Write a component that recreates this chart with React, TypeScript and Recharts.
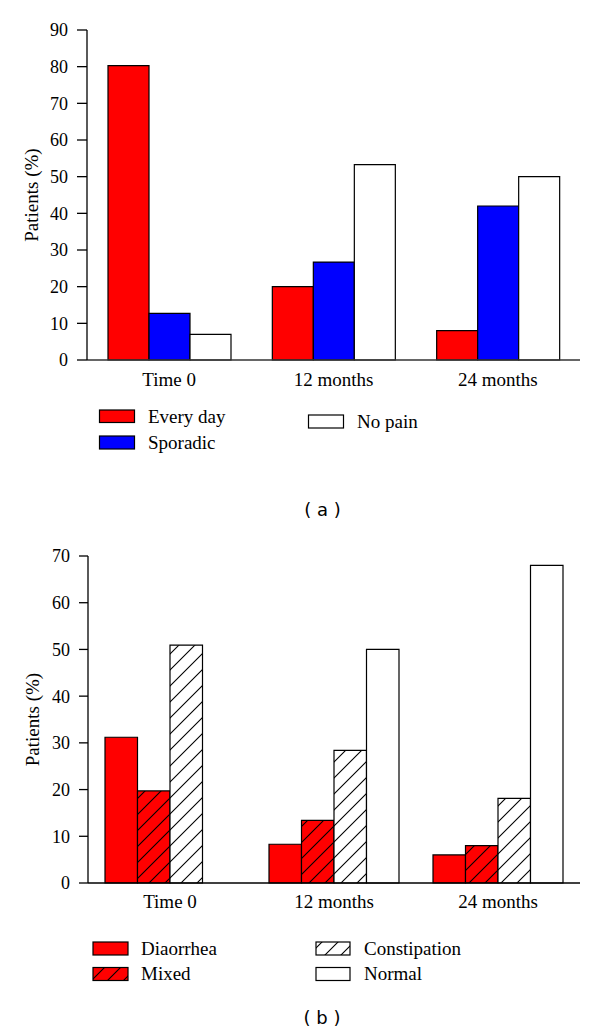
import React from 'react';
import { BarChart, Bar, XAxis, YAxis } from 'recharts';

// ---------- data ----------
const categories = ['Time 0', '12 months', '24 months'];

// (a) pain
const everyDay = [80.3, 20, 8];
const sporadic = [12.7, 26.7, 42];
const noPain = [7, 53.3, 50];
const painTicks = [0, 10, 20, 30, 40, 50, 60, 70, 80, 90];

// (b) bowel habit
const diaorrhea = [31.2, 8.3, 6];
const mixed = [19.7, 13.4, 8];
const constipation = [50.9, 28.4, 18.1];
const normal = [0, 50, 68];
const bowelTicks = [0, 10, 20, 30, 40, 50, 60, 70];

const painData = categories.map((c, i) => ({
  cat: c,
  everyDay: everyDay[i],
  sporadic: sporadic[i],
  noPain: noPain[i],
}));

const bowelData = categories.map((c, i) => ({
  cat: c,
  diaorrhea: diaorrhea[i],
  mixed: mixed[i],
  constipation: constipation[i],
  normal: normal[i],
}));

const SERIF = "'Liberation Serif', 'DejaVu Serif'";
const SANS = "'DejaVu Sans'";

const HatchDefs = ({ prefix }: { prefix: string }) => (
  <defs>
    <pattern id={`${prefix}HatchRed`} patternUnits="userSpaceOnUse" width="16" height="16">
      <rect width="16" height="16" fill="#ff0000" />
      <path d="M0,16 L16,0 M-4,4 L4,-4 M12,20 L20,12" stroke="#000" strokeWidth="1.1" />
    </pattern>
    <pattern id={`${prefix}HatchWhite`} patternUnits="userSpaceOnUse" width="16" height="16">
      <rect width="16" height="16" fill="#ffffff" />
      <path d="M0,16 L16,0 M-4,4 L4,-4 M12,20 L20,12" stroke="#000" strokeWidth="1.1" />
    </pattern>
  </defs>
);

type LegendItem = { label: string; fill: string; x: number; y: number; w: number; h: number; tx: number; ty: number };

const LegendBlock = ({ items, prefix }: { items: LegendItem[]; prefix: string }) => (
  <svg width={600} height={1036} style={{ position: 'absolute', left: 0, top: 0, pointerEvents: 'none' }}>
    <HatchDefs prefix={prefix} />
    {items.map((it) => (
      <g key={it.label}>
        <rect x={it.x} y={it.y} width={it.w} height={it.h} fill={it.fill} stroke="#000" strokeWidth={1.2} />
        <text x={it.tx} y={it.ty} style={{ fontFamily: SERIF, fontSize: 19 }} fill="#000">
          {it.label}
        </text>
      </g>
    ))}
  </svg>
);

const painLegend: LegendItem[] = [
  { label: 'Every day', fill: '#ff0000', x: 99.5, y: 410, w: 35, h: 12.5, tx: 148, ty: 423 },
  { label: 'Sporadic', fill: '#0000ff', x: 99.5, y: 436, w: 35, h: 13, tx: 148, ty: 448.5 },
  { label: 'No pain', fill: '#ffffff', x: 308.5, y: 415, w: 35, h: 13, tx: 357, ty: 428 },
];

const bowelLegend: LegendItem[] = [
  { label: 'Diaorrhea', fill: '#ff0000', x: 93, y: 942, w: 35, h: 13, tx: 141, ty: 955 },
  { label: 'Mixed', fill: 'url(#legHatchRed)', x: 93, y: 967.5, w: 35, h: 13, tx: 141, ty: 980 },
  { label: 'Constipation', fill: 'url(#legHatchWhite)', x: 316, y: 942, w: 34, h: 13, tx: 364, ty: 955 },
  { label: 'Normal', fill: '#ffffff', x: 316, y: 967.5, w: 34, h: 13, tx: 364, ty: 980 },
];

const axisTick = { style: { fontFamily: SERIF, fontSize: 18 }, fontSize: 18, fill: '#000' };
const catTick = { style: { fontFamily: SERIF, fontSize: 19 }, fontSize: 19, fill: '#000' };
const yLabelStyle = { fontFamily: SERIF, fontSize: 19, fill: '#000' };

export default function App() {
  return (
    <div style={{ position: 'absolute', left: 0, top: 0, width: 600, height: 1036, background: '#fff', fontFamily: SERIF }}>
      {/* (a) */}
      <div style={{ position: 'absolute', left: 0, top: 0 }}>
        <BarChart
          width={600}
          height={400}
          data={painData}
          margin={{ top: 30, right: 20, left: 0, bottom: 10 }}
          barGap={0}
          style={{ fontFamily: SERIF }}
        >
          <XAxis
            dataKey="cat"
            tickLine={false}
            tickSize={0}
            tickMargin={13}
            height={30}
            axisLine={{ stroke: '#333', strokeWidth: 1.3 }}
            tick={catTick}
            interval={0}
          />
          <YAxis
            width={87}
            domain={[0, 90]}
            ticks={painTicks}
            interval={0}
            tickSize={10}
            tickMargin={9}
            tick={axisTick}
            tickLine={{ stroke: '#000', strokeWidth: 1.3 }}
            axisLine={{ stroke: '#000', strokeWidth: 1.3 }}
            label={{ value: 'Patients (%)', angle: -90, position: 'center', dx: -12, style: yLabelStyle }}
          />
          <Bar dataKey="everyDay" name="Every day" fill="#ff0000" stroke="#000" strokeWidth={1.2} barSize={41} isAnimationActive={false} />
          <Bar dataKey="sporadic" name="Sporadic" fill="#0000ff" stroke="#000" strokeWidth={1.2} barSize={41} isAnimationActive={false} />
          <Bar dataKey="noPain" name="No pain" fill="#ffffff" stroke="#000" strokeWidth={1.2} barSize={41} isAnimationActive={false} />
        </BarChart>
      </div>

      {/* (b) */}
      <div style={{ position: 'absolute', left: 0, top: 520 }}>
        <BarChart
          width={600}
          height={403}
          data={bowelData}
          margin={{ top: 36, right: 20, left: 0, bottom: 10 }}
          barGap={0}
          style={{ fontFamily: SERIF }}
        >
          <HatchDefs prefix="chart" />
          <XAxis
            dataKey="cat"
            tickLine={false}
            tickSize={0}
            tickMargin={11.5}
            height={30}
            axisLine={{ stroke: '#000', strokeWidth: 1.3 }}
            tick={catTick}
            interval={0}
          />
          <YAxis
            width={88}
            domain={[0, 70]}
            ticks={bowelTicks}
            interval={0}
            tickSize={9}
            tickMargin={9}
            tick={axisTick}
            tickLine={{ stroke: '#000', strokeWidth: 1.3 }}
            axisLine={{ stroke: '#000', strokeWidth: 1.3 }}
            label={{ value: 'Patients (%)', angle: -90, position: 'center', dx: -12, style: yLabelStyle }}
          />
          <Bar dataKey="diaorrhea" name="Diaorrhea" fill="#ff0000" stroke="#000" strokeWidth={1.2} barSize={32.5} isAnimationActive={false} />
          <Bar dataKey="mixed" name="Mixed" fill="url(#chartHatchRed)" stroke="#000" strokeWidth={1.2} barSize={32.5} isAnimationActive={false} />
          <Bar dataKey="constipation" name="Constipation" fill="url(#chartHatchWhite)" stroke="#000" strokeWidth={1.2} barSize={32.5} isAnimationActive={false} />
          <Bar dataKey="normal" name="Normal" fill="#ffffff" stroke="#000" strokeWidth={1.2} barSize={32.5} isAnimationActive={false} />
        </BarChart>
      </div>

      <LegendBlock items={painLegend} prefix="legA" />
      <LegendBlock items={bowelLegend} prefix="leg" />

      <svg width={600} height={1036} style={{ position: 'absolute', left: 0, top: 0, pointerEvents: 'none' }}>
        <text x={322.5} y={516} textAnchor="middle" style={{ fontFamily: SANS, fontSize: 18 }} fill="#000">( a )</text>
        <text x={322} y={1024} textAnchor="middle" style={{ fontFamily: SANS, fontSize: 18 }} fill="#000">( b )</text>
      </svg>
    </div>
  );
}
